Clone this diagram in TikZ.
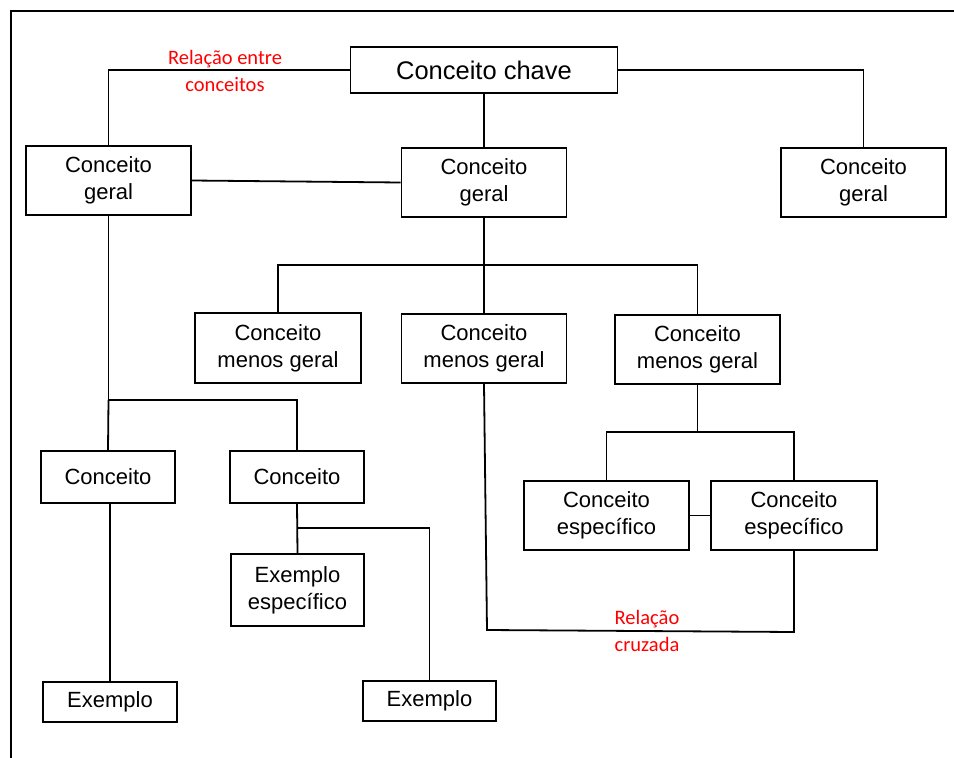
\documentclass[tikz,border=0pt]{standalone}
\usepackage{fontspec}
\setmainfont{Liberation Sans}
\newfontfamily\redfont{Carlito}
\begin{document}
\begin{tikzpicture}[x=1pt,y=-1pt,
  box/.style={draw, line width=1.8pt, inner sep=0pt, align=center,
    font=\fontsize{22}{27}\selectfont},
  conn/.style={line width=1.8pt},
  redlbl/.style={text=red, align=center, inner sep=0pt,
    font=\redfont\fontsize{20.5}{27}\selectfont}]
\useasboundingbox (0,0) rectangle (954,758);
\draw[line width=2.4pt] (954,11) -- (11,11) -- (11,758);

\node[box, minimum width=267pt, minimum height=46pt, font=\fontsize{25.5}{30}\selectfont] (chave) at (484,70) {Conceito chave};
\node[box, minimum width=165pt, minimum height=69pt] (cg1) at (108.5,180.5) {Conceito\\geral};
\node[box, minimum width=165pt, minimum height=69pt] (cg2) at (484,182.5) {Conceito\\geral};
\node[box, minimum width=165pt, minimum height=69pt] (cg3) at (863.5,182.5) {Conceito\\geral};

\node[box, minimum width=166pt, minimum height=70pt] (mg1) at (278,348) {Conceito\\menos geral};
\node[box, minimum width=165pt, minimum height=69pt] (mg2) at (484,348.5) {Conceito\\menos geral};
\node[box, minimum width=165pt, minimum height=69pt] (mg3) at (697.5,349.5) {Conceito\\menos geral};

\node[box, minimum width=165pt, minimum height=69pt] (ce1) at (606.5,515.5) {Conceito\\específico};
\node[box, minimum width=166pt, minimum height=69pt] (ce2) at (794,515.5) {Conceito\\específico};

\node[box, minimum width=134pt, minimum height=52pt] (c1) at (108,477) {Conceito};
\node[box, minimum width=134pt, minimum height=52pt] (c2) at (297,477) {Conceito};
\node[box, minimum width=133pt, minimum height=72pt] (ee) at (297.5,590) {Exemplo\\específico};
\node[box, minimum width=134pt, minimum height=40pt] (ex1) at (110,702) {Exemplo};
\node[box, minimum width=133pt, minimum height=40pt] (ex2) at (429.5,701) {Exemplo};

\node[redlbl] (lbl1) at (225,71) {Relação entre\\conceitos};
\node[redlbl] (lbl2) at (647,631) {Relação\\cruzada};

\coordinate (j1) at (484,265);
\coordinate (j2) at (697.5,432);
\coordinate (j3) at (108.5,400);
\coordinate (j4) at (297,528);
\coordinate (x1) at (487,630);
\coordinate (x2) at (794,632);

\draw[conn] (chave.west) -| (cg1.north);
\draw[conn] (chave.east) -| (cg3.north);
\draw[conn] (chave.south) -- (cg2.north);
\draw[conn] (cg1.east) -- (cg2.west);

\draw[conn] (cg2.south) -- (j1);
\draw[conn] (mg1.north) |- (j1) -| (mg3.north);
\draw[conn] (j1) -- (mg2.north);

\draw[conn] (mg3.south) -- (j2);
\draw[conn] (ce1.north) |- (j2) -| (ce2.north);
\draw[conn] (ce1.east) -- (ce2.west);

\draw[conn] (mg2.south) -- (x1) -- (x2) -- (ce2.south);

\draw[conn] (cg1.south) -- (j3) -| (c2.north);
\draw[conn] (j3) -- (c1.north);
\draw[conn] (c2.south) -- (ee.north);
\draw[conn] (j4) -| (ex2.north);
\draw[conn] (ex1.north) -- (ex1.north |- c1.south);
\end{tikzpicture}
\end{document}
